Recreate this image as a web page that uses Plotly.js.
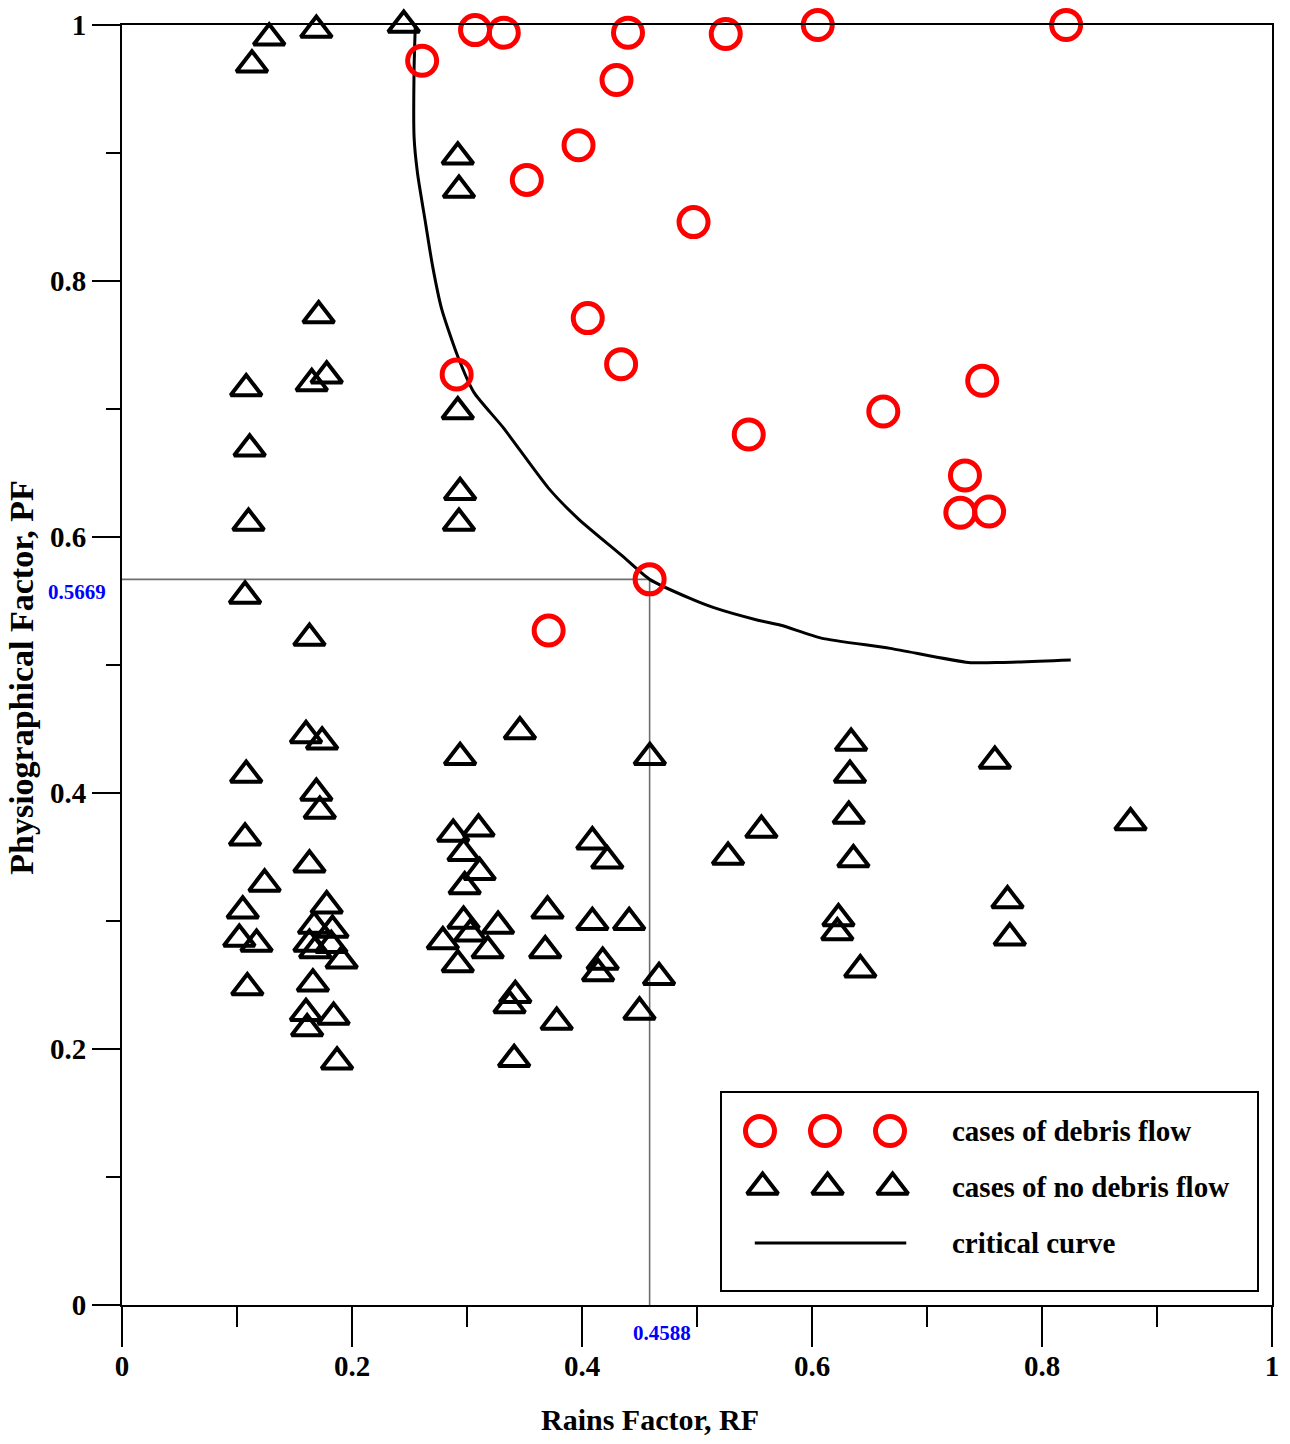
<!DOCTYPE html>
<html><head><meta charset="utf-8">
<script src="https://cdn.plot.ly/plotly-3.0.1.min.js"></script>
<style>html,body{margin:0;padding:0;background:#fff}#chart{width:1290px;height:1444px}</style>
</head><body><div id="chart"></div>
<script>
// ---- data: cases of debris flow (red circles) ----
const RF_debris = [0.261,0.307,0.332,0.440,0.525,0.605,0.821,0.430,0.397,0.352,0.497,0.405,0.434,0.291,0.748,0.662,0.545,0.733,0.729,0.754,0.4588,0.371];
const PF_debris = [0.972,0.996,0.994,0.994,0.993,1.000,1.000,0.957,0.906,0.879,0.846,0.771,0.735,0.727,0.722,0.698,0.680,0.648,0.619,0.620,0.5669,0.527];

// ---- data: cases of no debris flow (black triangles) ----
const RF_nodebris = [0.128,0.169,0.113,0.245,0.287,0.292,0.293,0.171,0.108,0.165,0.178,0.292,0.111,0.294,0.110,0.293,0.107,0.163,
  0.160,0.174,0.346,0.294,0.459,0.634,0.759,0.108,0.633,0.169,0.172,0.632,0.877,0.107,0.288,0.310,0.556,0.409,0.297,0.422,0.527,0.636,
  0.163,0.311,0.124,0.298,0.770,0.178,0.105,0.370,0.297,0.409,0.441,0.623,0.167,0.183,0.327,0.622,0.303,0.102,0.117,0.163,0.182,0.279,
  0.772,0.168,0.318,0.368,0.191,0.292,0.418,0.642,0.414,0.467,0.109,0.166,0.342,0.337,0.450,0.160,0.184,0.378,0.161,0.187,0.341];
const PF_nodebris = [0.990,0.996,0.969,1.000,1.005,0.897,0.871,0.773,0.716,0.720,0.726,0.698,0.669,0.635,0.611,0.611,0.554,0.521,
  0.445,0.440,0.448,0.428,0.428,0.439,0.425,0.414,0.414,0.400,0.386,0.382,0.377,0.365,0.368,0.372,0.371,0.362,0.353,0.347,0.350,0.348,
  0.344,0.338,0.329,0.327,0.316,0.312,0.308,0.308,0.300,0.299,0.299,0.302,0.296,0.293,0.296,0.291,0.290,0.286,0.282,0.282,0.281,0.284,
  0.287,0.277,0.277,0.277,0.269,0.266,0.268,0.262,0.259,0.256,0.248,0.251,0.242,0.234,0.229,0.228,0.225,0.221,0.216,0.190,0.192];

// ---- data: critical curve ----
const RF_curve = [0.255,0.254,0.254,0.257,0.264,0.270,0.278,0.292,0.306,0.331,0.371,0.397,0.434,0.4588,0.494,0.514,0.553,0.573,0.608,0.668,0.736,0.764,0.825];
const PF_curve = [0.998,0.966,0.912,0.884,0.845,0.812,0.778,0.741,0.713,0.686,0.638,0.614,0.586,0.5669,0.552,0.545,0.535,0.531,0.521,0.513,0.502,0.502,0.504];

// ---- critical point ----
const RF_CRIT = 0.4588;
const PF_CRIT = 0.5669;

// ---- ticks & labels ----
const axisTicks = [0, 0.2, 0.4, 0.6, 0.8, 1];
const xTitle = 'Rains Factor, RF';
const yTitle = 'Physiographical Factor, PF';
const legendLabels = ['cases of debris flow', 'cases of no debris flow', 'critical curve'];
const legendCols = [0, 1, 2];

const FONT = 'Liberation Serif, Times New Roman, serif';
const bold = (size, color) => ({family: FONT, size: size, color: color || '#000', weight: 'bold'});

const circleMarker = {symbol: 'circle-open', size: 29, color: '#ff0000', line: {width: 5, color: '#ff0000'}};
const triMarker = {symbol: 'triangle-up-open', size: 27, color: '#000', line: {width: 4, color: '#000'}};

const traces = [
  {type: 'scatter', mode: 'lines', x: [0, RF_CRIT, RF_CRIT], y: [PF_CRIT, PF_CRIT, 0],
   line: {color: '#6e6e6e', width: 1.6}, hoverinfo: 'skip', showlegend: false},
  {type: 'scatter', mode: 'lines', x: RF_curve, y: PF_curve, name: legendLabels[2],
   line: {color: '#000', width: 3, shape: 'spline', smoothing: 0.6}, showlegend: false},
  {type: 'scatter', mode: 'markers', x: RF_nodebris, y: PF_nodebris, name: legendLabels[1],
   marker: triMarker, cliponaxis: false, showlegend: false},
  {type: 'scatter', mode: 'markers', x: RF_debris, y: PF_debris, name: legendLabels[0],
   marker: circleMarker, cliponaxis: false, showlegend: false},
  // custom legend samples (rows 0,1,2 ; columns 0,1,2) on the legend sub-axes
  {type: 'scatter', mode: 'markers', xaxis: 'x2', yaxis: 'y2', x: legendCols, y: legendCols.map(() => 0),
   marker: circleMarker, cliponaxis: false, hoverinfo: 'skip', showlegend: false},
  {type: 'scatter', mode: 'markers', xaxis: 'x2', yaxis: 'y2', x: legendCols.map(c => c + 0.04), y: legendCols.map(() => 1),
   marker: triMarker, cliponaxis: false, hoverinfo: 'skip', showlegend: false},
  {type: 'scatter', mode: 'lines', xaxis: 'x2', yaxis: 'y2', x: [legendCols[0] - 0.08, legendCols[2] + 0.25], y: [2, 2],
   line: {color: '#000', width: 3}, hoverinfo: 'skip', showlegend: false}
];

const baseAxis = {
  range: [0, 1], tickvals: axisTicks, ticks: 'outside', tickwidth: 2, tickcolor: '#000',
  showline: true, linewidth: 2, linecolor: '#000', mirror: true,
  showgrid: false, zeroline: false, tickfont: bold(29), fixedrange: true
};

const layout = {
  width: 1290, height: 1444,
  margin: {l: 122, r: 18, t: 25, b: 139},
  paper_bgcolor: '#fff', plot_bgcolor: '#fff',
  showlegend: false,
  xaxis: Object.assign({}, baseAxis, {ticklen: 40, ticklabelstandoff: -6,
    minor: {dtick: 0.1, ticks: 'outside', ticklen: 20, tickwidth: 2, tickcolor: '#000', showgrid: false}}),
  yaxis: Object.assign({}, baseAxis, {ticklen: 28, ticklabelstandoff: 0,
    minor: {dtick: 0.1, ticks: 'outside', ticklen: 14, tickwidth: 2, tickcolor: '#000', showgrid: false}}),
  xaxis2: {domain: [0.5217, 0.9870], anchor: 'y2', range: [-0.585, 7.646], showline: true, mirror: true,
    linewidth: 2, linecolor: '#000', showgrid: false, zeroline: false, showticklabels: false, ticks: '', fixedrange: true},
  yaxis2: {domain: [0.0117, 0.1656], anchor: 'x2', range: [2.84, -0.68], showline: true, mirror: true,
    linewidth: 2, linecolor: '#000', showgrid: false, zeroline: false, showticklabels: false, ticks: '', fixedrange: true},
  annotations: [
    {text: xTitle, xref: 'paper', yref: 'paper', x: 0.459, y: -0.0898, xanchor: 'center', yanchor: 'middle',
     showarrow: false, font: bold(30)},
    {text: yTitle, xref: 'paper', yref: 'paper', x: -0.087, y: 0.49, xanchor: 'center', yanchor: 'middle',
     textangle: -90, showarrow: false, font: bold(34)},
    {text: String(PF_CRIT), xref: 'x', yref: 'y', x: 0, y: PF_CRIT, xanchor: 'right', yanchor: 'top',
     xshift: -14, yshift: 1, showarrow: false, font: bold(21, '#0000ff')},
    {text: String(RF_CRIT), xref: 'x', yref: 'y', x: RF_CRIT, y: 0, xanchor: 'center', yanchor: 'top',
     xshift: 12, yshift: -14, showarrow: false, font: bold(21, '#0000ff')}
  ].concat(legendLabels.map((t, i) => ({
     text: t, xref: 'x2', yref: 'y2', x: 2.92, y: i, xanchor: 'left', yanchor: 'middle',
     showarrow: false, font: bold(29)})))
};

Plotly.newPlot('chart', traces, layout, {displayModeBar: false, staticPlot: true});
</script>
</body></html>
